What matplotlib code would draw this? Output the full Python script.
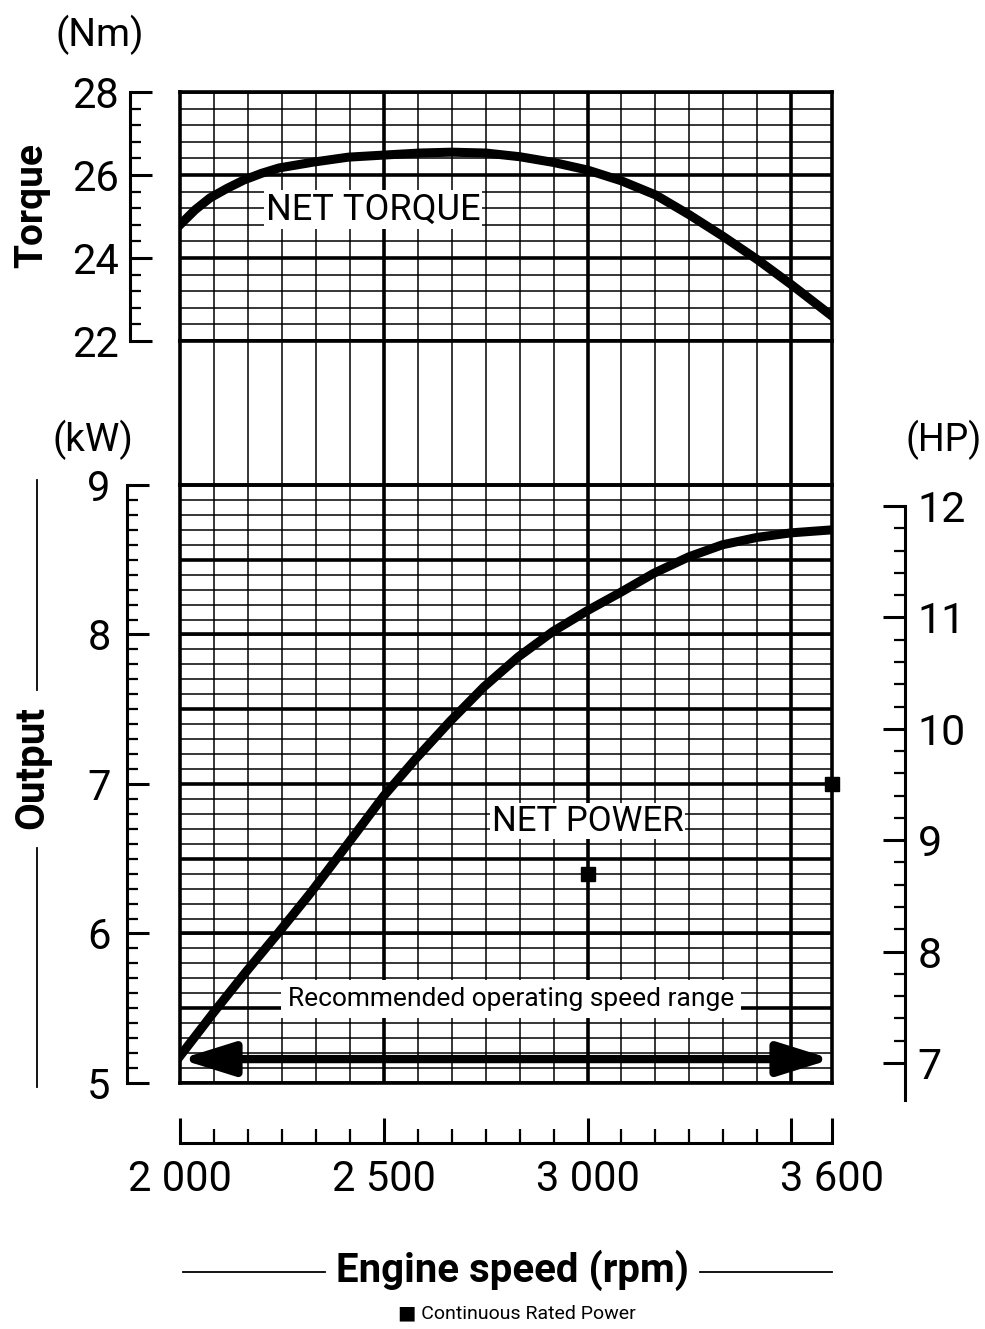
import numpy as np
import matplotlib.pyplot as plt
from matplotlib.lines import Line2D
from matplotlib.ticker import FixedLocator, FixedFormatter, NullFormatter

plt.rcParams['font.family'] = ['Roboto', 'DejaVu Sans']

# -------------------------------
# Data
# -------------------------------
rpm_torque = [2000, 2037, 2074, 2116, 2157, 2200, 2243, 2327, 2413, 2500, 2589,
              2666, 2750, 2834, 2918, 3000, 3083, 3167, 3250, 3333, 3417, 3500, 3600]
torque_nm = [24.80, 25.16, 25.45, 25.68, 25.88, 26.04, 26.17, 26.31, 26.43, 26.48, 26.53,
             26.55, 26.53, 26.44, 26.30, 26.12, 25.86, 25.52, 25.04, 24.52, 23.96, 23.36, 22.60]

rpm_power = [2000, 2082, 2161, 2240, 2320, 2398, 2500, 2579, 2663, 2746, 2830,
             2915, 3000, 3080, 3163, 3249, 3331, 3417, 3500, 3600]
power_kw = [5.18, 5.47, 5.74, 6.00, 6.27, 6.55, 6.92, 7.17, 7.42, 7.65, 7.85,
            8.02, 8.16, 8.28, 8.41, 8.52, 8.60, 8.65, 8.68, 8.70]

rated_rpm = [3000, 3600]
rated_kw = [6.4, 7.0]

range_rpm = [2000, 3600]
range_kw = 5.16

x_ticks = [2000, 2500, 3000, 3500, 3600]
x_labels = ["2 000", "2 500", "3 000", "", "3 600"]
torque_ticks = [22, 24, 26, 28]
kw_ticks = [5, 6, 7, 8, 9]
hp_ticks = [7, 8, 9, 10, 11, 12]

W, H = 985, 1329
fig = plt.figure(figsize=(W / 100, H / 100), dpi=100)


def box(l, t, r, b):
    return [l / W, 1 - b / H, (r - l) / W, (b - t) / H]


def ftext(x, y, s, **kw):
    fig.text(x / W, 1 - y / H, s, ha="center", va="center", **kw)


THIN = 1.1
THICK = 2.6
minor_step = 500 / 6
x_minor = np.arange(2000, 3500.1, minor_step)
x_major = [2500, 3000, 3500]

ax_t = fig.add_axes(box(180, 92, 832, 341))
ax_m = fig.add_axes(box(180, 341, 832, 485))
ax_p = fig.add_axes(box(180, 485, 832, 1083))

for ax in (ax_t, ax_m, ax_p):
    ax.set_xlim(2000, 3600)
    for s in ax.spines.values():
        s.set_linewidth(THICK)
    ax.vlines(x_minor, 0, 1, transform=ax.get_xaxis_transform(), color="black", lw=THIN, zorder=1)
    ax.vlines(x_major, 0, 1, transform=ax.get_xaxis_transform(), color="black", lw=THICK, zorder=1)
    ax.set_xticks([])
    ax.set_yticks([])

ax_m.set_ylim(0, 1)

# -------------------------------
# Torque panel
# -------------------------------
ax_t.set_ylim(22, 28)
ax_t.hlines(np.arange(22, 28.01, 0.4), 2000, 3600, color="black", lw=THIN, zorder=1)
ax_t.hlines(torque_ticks, 2000, 3600, color="black", lw=THICK, zorder=1)
ax_t.plot(rpm_torque, torque_nm, color="black", lw=6.5, solid_joinstyle="round", zorder=3)
ax_t.text(2474, 25.17, "NET TORQUE", fontsize=26, ha="center", va="center", zorder=2,
          bbox=dict(facecolor="white", edgecolor="none", pad=1))

lt = ax_t.twinx()
lt.set_ylim(22, 28)
for name, s in lt.spines.items():
    s.set_visible(name == "left")
lt.spines["left"].set_position(("outward", 36))
lt.spines["left"].set_linewidth(2.2)
lt.yaxis.set_ticks_position("left")
lt.yaxis.set_major_locator(FixedLocator(torque_ticks))
lt.yaxis.set_minor_locator(FixedLocator(np.arange(22, 28.01, 0.4)))
lt.tick_params(axis="y", which="major", direction="in", length=16, width=2.2, labelsize=30, pad=8)
lt.tick_params(axis="y", which="minor", direction="in", length=8, width=1.6)

# -------------------------------
# Power panel
# -------------------------------
ax_p.set_ylim(5, 9)
ax_p.hlines(np.arange(5, 9.01, 0.1), 2000, 3600, color="black", lw=THIN, zorder=1)
ax_p.hlines(np.arange(5, 9.01, 0.5), 2000, 3600, color="black", lw=THICK, zorder=1)
ax_p.plot(rpm_power, power_kw, color="black", lw=6.5, solid_joinstyle="round", zorder=3)
ax_p.plot(rated_rpm, rated_kw, "s", color="black", markersize=10, clip_on=False, zorder=4)
ax_p.text(3000, 6.75, "NET POWER", fontsize=25, ha="center", va="center", zorder=2,
          bbox=dict(facecolor="white", edgecolor="none", pad=1))
ax_p.text(2812, 5.56, "Recommended operating speed range", fontsize=19, ha="center", va="center",
          zorder=2, bbox=dict(facecolor="white", edgecolor="none", pad=5))
ax_p.annotate("", xy=(range_rpm[1], range_kw), xytext=(range_rpm[0], range_kw),
              arrowprops=dict(arrowstyle="<|-|>,head_length=1.6,head_width=0.5", lw=6,
                              color="black", mutation_scale=20, shrinkA=0, shrinkB=0),
              zorder=4)

lp = ax_p.twinx()
lp.set_ylim(5, 9)
ax_p.xaxis.set_visible(False)
lp.xaxis.set_visible(True)
for name, s in lp.spines.items():
    s.set_visible(name in ("left", "bottom"))
lp.spines["left"].set_position(("outward", 38))
lp.spines["left"].set_linewidth(2.2)
lp.spines["bottom"].set_position(("outward", 43))
lp.spines["bottom"].set_linewidth(2.2)
lp.yaxis.set_ticks_position("left")
lp.yaxis.set_major_locator(FixedLocator(kw_ticks))
lp.yaxis.set_minor_locator(FixedLocator(np.arange(5, 9.01, 0.1)))
lp.tick_params(axis="y", which="major", direction="in", length=16, width=2.2, labelsize=30, pad=12)
lp.tick_params(axis="y", which="minor", direction="in", length=8, width=1.6)
lp.xaxis.set_ticks_position("bottom")
lp.xaxis.set_major_locator(FixedLocator(x_ticks))
lp.xaxis.set_major_formatter(FixedFormatter(x_labels))
lp.xaxis.set_minor_locator(FixedLocator(x_minor))
lp.xaxis.set_minor_formatter(NullFormatter())
lp.tick_params(axis="x", which="major", direction="in", length=18, width=2.2, labelsize=30, pad=12)
lp.tick_params(axis="x", which="minor", direction="in", length=10, width=1.6)

# -------------------------------
# HP scale on the right
# -------------------------------
hp_top = 12
hp_bottom = hp_top - (1100 - 506) / 111.4
ax_hp = fig.add_axes(box(860, 506, 905, 1100))
ax_hp.patch.set_visible(False)
ax_hp.set_ylim(hp_bottom, hp_top)
ax_hp.set_xticks([])
for name, s in ax_hp.spines.items():
    s.set_visible(name == "right")
ax_hp.spines["right"].set_linewidth(2.2)
ax_hp.yaxis.set_ticks_position("right")
ax_hp.yaxis.set_major_locator(FixedLocator(hp_ticks))
ax_hp.yaxis.set_minor_locator(FixedLocator(np.arange(7, 12.01, 0.2)))
ax_hp.tick_params(axis="y", which="major", direction="in", length=16, width=2.2, labelsize=31, pad=9)
ax_hp.tick_params(axis="y", which="minor", direction="in", length=8, width=1.6)

# -------------------------------
# Axis titles and notes
# -------------------------------
ftext(100, 35, "(Nm)", fontsize=28)
ftext(93, 440, "(kW)", fontsize=28)
ftext(944, 440, "(HP)", fontsize=27)
ftext(32, 205, "Torque", fontsize=28, fontweight="bold", rotation=90)
ftext(32, 768, "Output", fontsize=29, fontweight="bold", rotation=90)
ftext(513, 1270, "Engine speed (rpm)", fontsize=29, fontweight="bold")
ftext(517, 1313, "\u25a0 Continuous Rated Power", fontsize=14)

for xs, ys in (([37, 37], [480, 690]), ([37, 37], [848, 1087]),
               ([183, 325], [1272, 1272]), ([700, 832], [1272, 1272])):
    fig.add_artist(Line2D([x / W for x in xs], [1 - y / H for y in ys], color="black", lw=1.3))

fig.savefig("out.png", dpi=100)
